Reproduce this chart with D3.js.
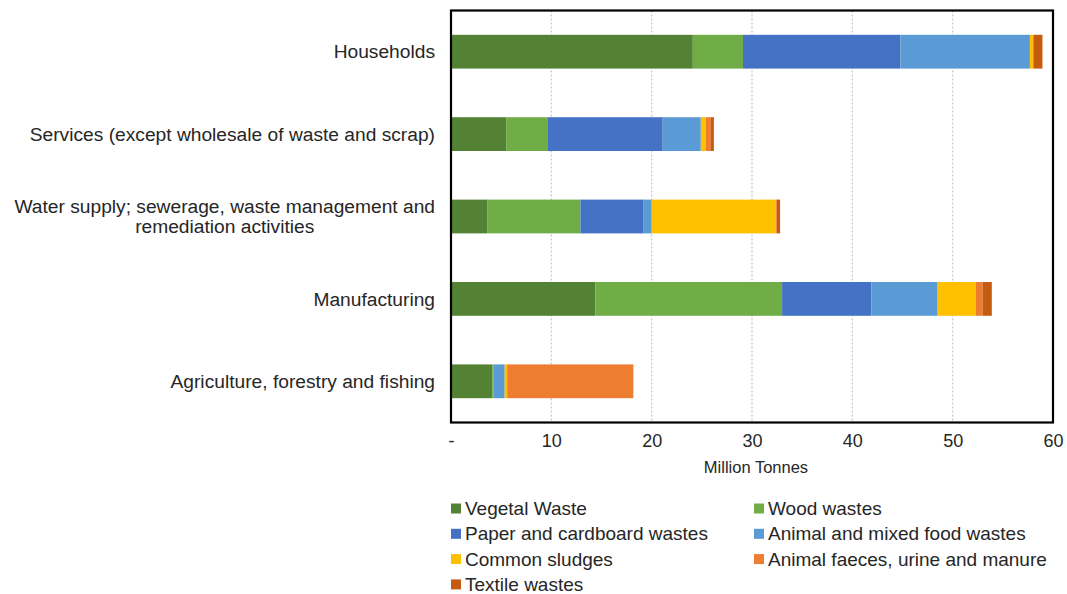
<!DOCTYPE html>
<html>
<head>
<meta charset="utf-8">
<script src="https://cdn.jsdelivr.net/npm/d3@7/dist/d3.min.js"></script>
<style>
  html, body { margin: 0; padding: 0; background: #fff; }
  svg { display: block; font-family: "Liberation Sans", Arial, sans-serif; }
</style>
</head>
<body>
<svg id="chart" width="1067" height="594"></svg>
<script>
// ---- data ----
const categories = [
  "Households",
  "Services (except wholesale of waste and scrap)",
  "Water supply; sewerage, waste management and remediation activities",
  "Manufacturing",
  "Agriculture, forestry and fishing"
];
const categoryLines = [
  ["Households"],
  ["Services (except wholesale of waste and scrap)"],
  ["Water supply; sewerage, waste management and", "remediation activities"],
  ["Manufacturing"],
  ["Agriculture, forestry and fishing"]
];
const seriesNames = [
  "Vegetal Waste",
  "Wood wastes",
  "Paper and cardboard wastes",
  "Animal and mixed food wastes",
  "Common sludges",
  "Animal faeces, urine and manure",
  "Textile wastes"
];
const vegetal  = [24.1, 5.5, 3.6, 14.4, 4.1];
const wood     = [5.0, 4.1, 9.3, 18.6, 0.1];
const paper    = [15.7, 11.5, 6.3, 8.9, 0.05];
const food     = [12.9, 3.8, 0.8, 6.6, 1.1];
const sludge   = [0.3, 0.5, 12.4, 3.8, 0.25];
const manure   = [0.05, 0.5, 0.05, 0.7, 12.55];
const textile  = [0.9, 0.3, 0.35, 0.9, 0.02];
const seriesValues = [vegetal, wood, paper, food, sludge, manure, textile];
const colors = ["#548235", "#70AD47", "#4472C4", "#5B9BD5", "#FFC000", "#ED7D31", "#C55A11"];
const xTicks = [0, 10, 20, 30, 40, 50, 60];
const xTickLabels = ["-", "10", "20", "30", "40", "50", "60"];
const xTitle = "Million Tonnes";

// ---- layout ----
const svg = d3.select("#chart");
const plot = { left: 451, right: 1053, top: 10.5, bottom: 422.5 };
const textColor = "#262626";

const x = d3.scaleLinear().domain([0, 60]).range([plot.left, plot.right]);
const y = d3.scaleBand().domain(categories).range([plot.top, plot.bottom])
  .paddingInner(0.59).paddingOuter(0.295);

// gridlines
svg.append("g").selectAll("line").data(xTicks.slice(1, -1)).join("line")
  .attr("x1", d => x(d)).attr("x2", d => x(d))
  .attr("y1", plot.top).attr("y2", plot.bottom)
  .attr("stroke", "#c8c8c8").attr("stroke-width", 1.3)
  .attr("stroke-dasharray", "2,2");

// stacked data
const rows = categories.map((c, i) => {
  const o = { category: c };
  seriesNames.forEach((s, j) => { o[s] = seriesValues[j][i]; });
  return o;
});
const stacked = d3.stack().keys(seriesNames)(rows);

svg.append("g").selectAll("g").data(stacked).join("g")
  .attr("fill", (d, i) => colors[i])
  .selectAll("rect").data(d => d).join("rect")
  .attr("x", d => x(d[0]))
  .attr("width", d => Math.max(0, x(d[1]) - x(d[0])))
  .attr("y", d => y(d.data.category))
  .attr("height", y.bandwidth());

// frame
svg.append("rect")
  .attr("x", plot.left).attr("y", plot.top)
  .attr("width", plot.right - plot.left).attr("height", plot.bottom - plot.top)
  .attr("fill", "none").attr("stroke", "#000").attr("stroke-width", 2.2);

// x axis
const xAxis = d3.axisBottom(x).tickValues(xTicks)
  .tickFormat((d, i) => xTickLabels[i]).tickSize(0).tickPadding(12);
const gx = svg.append("g").attr("transform", `translate(0,${plot.bottom})`).call(xAxis);
gx.select(".domain").remove();
gx.selectAll("text").attr("font-size", "18px").attr("fill", textColor)
  .attr("font-family", "Liberation Sans, Arial, sans-serif");

svg.append("text")
  .attr("x", (plot.left + plot.right) / 2 + 4).attr("y", 473)
  .attr("text-anchor", "middle").attr("font-size", "16.5px").attr("fill", textColor)
  .text(xTitle);

// y axis labels
const yAxis = d3.axisLeft(y).tickSize(0).tickPadding(16).tickFormat(() => "");
const gy = svg.append("g").attr("transform", `translate(${plot.left},0)`).call(yAxis);
gy.select(".domain").remove();
gy.selectAll(".tick").each(function(d, i) {
  const lines = categoryLines[i];
  const t = d3.select(this).select("text")
    .attr("font-size", "19.2px").attr("fill", textColor)
    .attr("font-family", "Liberation Sans, Arial, sans-serif")
    .attr("text-anchor", "middle")
    .attr("dy", null);
  t.text(null);
  const lh = 20;
  lines.forEach((ln, k) => {
    t.append("tspan").attr("x", 0).attr("y", (k - (lines.length - 1) / 2) * lh)
      .attr("dy", "0.35em").text(ln);
  });
  const w = t.node().getBBox().width;
  t.selectAll("tspan").attr("x", -16 - w / 2);
});

// legend
const legend = svg.append("g");
seriesNames.forEach((s, i) => {
  const col = i % 2, row = Math.floor(i / 2);
  const lx = col === 0 ? 451 : 754;
  const ly = 508.5 + row * 25.3;
  legend.append("rect").attr("x", lx).attr("y", ly - 5).attr("width", 10).attr("height", 10)
    .attr("fill", colors[i]);
  legend.append("text").attr("x", lx + 14).attr("y", ly).attr("dy", "0.35em")
    .attr("font-size", "19px").attr("fill", textColor).text(s);
});
</script>
</body>
</html>
